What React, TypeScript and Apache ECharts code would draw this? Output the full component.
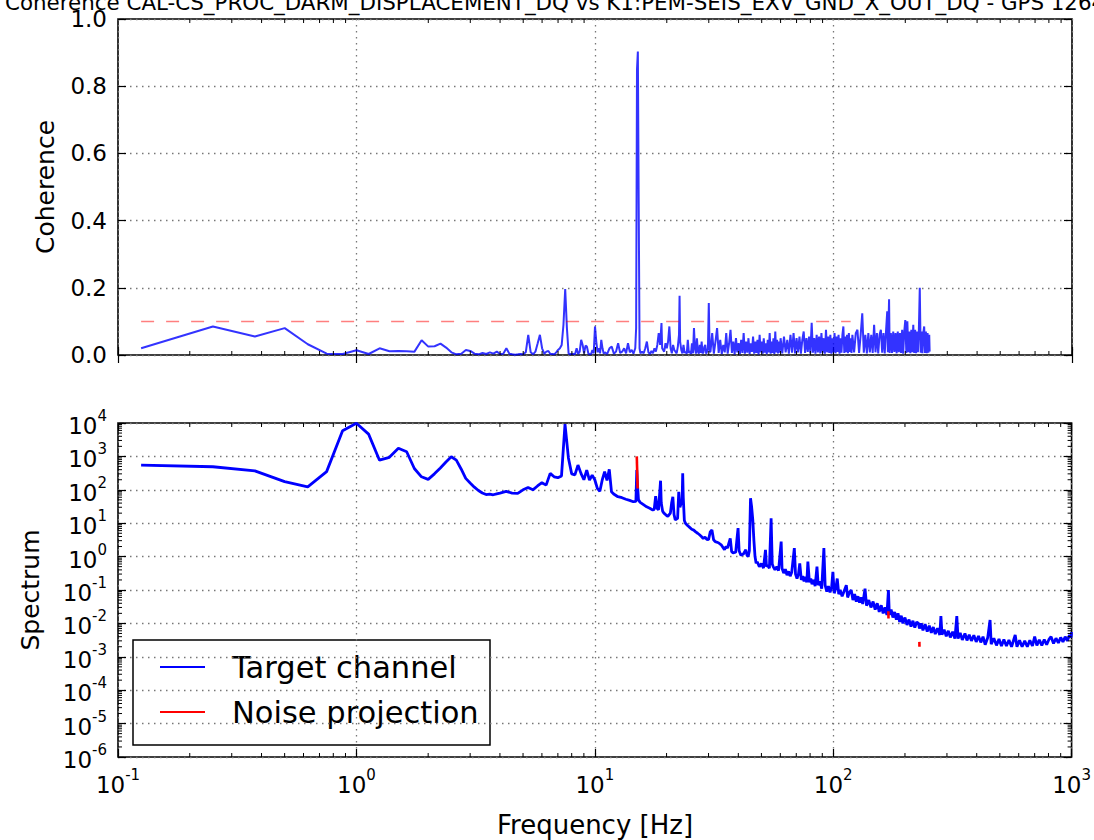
import React, { useEffect, useRef } from 'react';
import * as echarts from 'echarts';

const FONT = '"DejaVu Sans", "Liberation Sans", sans-serif';

const TITLE = 'Coherence CAL-CS_PROC_DARM_DISPLACEMENT_DQ vs K1:PEM-SEIS_EXV_GND_X_OUT_DQ - GPS 1264';
const Y_TOP_LABEL = 'Coherence';
const Y_BOTTOM_LABEL = 'Spectrum';
const X_LABEL = 'Frequency [Hz]';
const LEGEND_ITEMS = ['Target channel', 'Noise projection'];

const FREQ_MIN = 0.1;
const FREQ_MAX = 1000;
const SPEC_MIN = 1e-6;
const SPEC_MAX = 1e4;
const COH_MIN = 0;
const COH_MAX = 1;
const COH_INTERVAL = 0.2;

const xDecades = [-1, 0, 1, 2];
const yDecades = [-6, -5, -4, -3, -2, -1, 0, 1, 2, 3];
const minorMultipliers = [2, 3, 4, 5, 6, 7, 8, 9];

// coherence threshold line
const thresholdValue = 0.1;
const thresholdFreqs = [0.125, 118];

// coherence [Hz, coherence]
const coherence: [number, number][] = [
  [0.125, 0.02], [0.25, 0.085], [0.375, 0.055], [0.5, 0.08], [0.625, 0.032], [0.75, 0.004], [0.875, 0.003],
  [1.0, 0.014], [1.125, 0.003], [1.25, 0.02], [1.375, 0.011], [1.5, 0.012], [1.625, 0.011], [1.75, 0.01],
  [1.875, 0.044], [2.0, 0.025], [2.125, 0.026], [2.25, 0.034], [2.375, 0.022], [2.5, 0.008], [2.625, 0.002],
  [2.75, 0.004], [2.875, 0.015], [3.0, 0.012], [3.125, 0.004], [3.25, 0.002], [3.375, 0.006], [3.5, 0.003],
  [3.625, 0.008], [3.75, 0.004], [3.875, 0.01], [4.0, 0.003], [4.125, 0.004], [4.25, 0.02], [4.375, 0.004],
  [4.5, 0.002], [4.625, 0.001], [4.75, 0.002], [4.875, 0.003], [5.0, 0.002], [5.125, 0.008], [5.25, 0.06],
  [5.375, 0.008], [5.5, 0.002], [5.625, 0.01], [5.75, 0.035], [5.875, 0.06], [6.0, 0.02], [6.125, 0.004],
  [6.25, 0.01], [6.375, 0.012], [6.5, 0.003], [6.625, 0.003], [6.75, 0.002], [6.875, 0.008], [7.0, 0.015],
  [7.125, 0.02], [7.25, 0.03], [7.375, 0.09], [7.5, 0.196], [7.625, 0.08], [7.75, 0.005], [7.875, 0.002],
  [8.0, 0.004], [8.125, 0.003], [8.25, 0.003], [8.375, 0.02], [8.5, 0.003], [8.625, 0.01], [8.75, 0.045],
  [8.875, 0.03], [9.0, 0.005], [9.125, 0.028], [9.25, 0.025], [9.375, 0.005], [9.5, 0.002], [9.625, 0.003],
  [9.75, 0.015], [9.875, 0.005], [10.0, 0.085], [10.125, 0.04], [10.25, 0.008], [10.375, 0.02], [10.5, 0.005],
  [10.625, 0.045], [10.75, 0.02], [10.875, 0.004], [11.0, 0.008], [11.25, 0.003], [11.5, 0.02], [11.75, 0.025],
  [12.0, 0.004], [12.25, 0.01], [12.5, 0.035], [12.75, 0.006], [13.0, 0.01], [13.25, 0.02], [13.5, 0.005],
  [13.75, 0.035], [14.0, 0.008], [14.25, 0.015], [14.5, 0.004], [14.75, 0.02], [14.875, 0.08], [15.0, 0.85],
  [15.125, 0.903], [15.25, 0.45], [15.375, 0.02], [15.5, 0.005], [15.75, 0.01], [16.0, 0.005], [16.25, 0.02],
  [16.5, 0.04], [16.75, 0.008], [17.0, 0.003], [17.25, 0.012], [17.5, 0.005], [17.75, 0.02], [18.0, 0.01],
  [18.25, 0.03], [18.5, 0.065], [18.75, 0.03], [19.0, 0.095], [19.125, 0.02], [19.5, 0.01], [19.75, 0.035],
  [20.0, 0.02], [20.25, 0.04], [20.5, 0.085], [20.75, 0.02], [21.0, 0.005], [21.25, 0.03], [21.5, 0.015],
  [22.0, 0.005], [22.25, 0.025], [22.5, 0.06], [22.625, 0.176], [22.75, 0.04], [23.0, 0.015], [23.25, 0.005],
  [23.5, 0.03], [23.75, 0.006], [24.0, 0.01], [24.25, 0.004], [24.5, 0.045], [24.75, 0.006], [25.0, 0.012],
  [25.25, 0.003], [25.5, 0.035], [25.75, 0.005], [26.0, 0.08], [26.25, 0.02], [26.5, 0.004], [26.75, 0.05],
  [27.0, 0.01], [27.25, 0.004], [27.5, 0.03], [27.75, 0.006], [28.0, 0.04], [28.25, 0.005], [28.5, 0.008],
  [28.75, 0.025], [29.0, 0.03], [29.25, 0.004], [29.5, 0.01], [29.75, 0.02], [30.0, 0.155], [30.25, 0.01],
  [30.5, 0.01], [31, 0.065], [31.5, 0.004], [32, 0.04], [32.5, 0.08], [33, 0.006], [33.5, 0.045], [34, 0.003],
  [34.5, 0.03], [35, 0.008], [35.5, 0.065], [36, 0.004], [36.5, 0.035], [37, 0.075], [37.5, 0.006], [38, 0.04],
  [38.5, 0.002], [39, 0.05], [39.5, 0.008], [40, 0.035], [40.5, 0.003], [41, 0.045], [41.5, 0.006], [42, 0.065],
  [42.5, 0.004], [43, 0.04], [43.5, 0.007], [44, 0.05], [44.5, 0.003], [45, 0.035], [45.5, 0.009], [46, 0.055],
  [46.5, 0.004], [47, 0.04], [47.5, 0.006], [48, 0.045], [48.5, 0.002], [49, 0.06], [49.5, 0.008], [50, 0.04],
  [50.5, 0.004], [51, 0.05], [51.5, 0.007], [52, 0.035], [52.5, 0.003], [53, 0.045], [53.5, 0.008], [54, 0.065],
  [54.5, 0.004], [55, 0.04], [55.5, 0.006], [56, 0.05], [56.5, 0.003], [57, 0.07], [57.5, 0.008], [58, 0.045],
  [58.5, 0.005], [59, 0.04], [59.5, 0.007], [60, 0.05],
  [61, 0.005], [62, 0.055], [63, 0.008], [64, 0.045], [65, 0.004], [66, 0.06], [67, 0.007], [68, 0.065],
  [69, 0.005], [70, 0.05], [71, 0.008], [72, 0.055], [73, 0.004], [74, 0.045], [75, 0.07], [76, 0.006],
  [77, 0.05], [78, 0.009], [79, 0.055], [80, 0.005], [81, 0.096], [82, 0.007], [83, 0.05], [84, 0.004],
  [85, 0.06], [86, 0.008], [87, 0.055], [88, 0.005], [89, 0.065], [90, 0.007], [91, 0.05], [92, 0.004],
  [93, 0.075], [94, 0.008], [95, 0.055], [96, 0.006], [97, 0.06], [98, 0.004], [99, 0.05], [100, 0.008],
  [101, 0.065], [102, 0.005], [103, 0.055], [104, 0.009], [105, 0.06], [106, 0.004], [107, 0.05], [108, 0.007],
  [109, 0.06], [110, 0.085], [111, 0.006], [112, 0.055], [113, 0.008], [114, 0.06], [115, 0.005], [116, 0.065],
  [117, 0.009], [118, 0.05], [119, 0.006], [120, 0.06],
  [122, 0.008], [124, 0.065], [126, 0.075], [128, 0.006], [130, 0.06], [132, 0.124], [134, 0.007], [136, 0.06],
  [138, 0.005], [140, 0.065], [142, 0.008], [144, 0.06], [146, 0.006], [148, 0.09], [150, 0.008], [152, 0.065],
  [154, 0.005], [156, 0.06], [158, 0.075], [160, 0.007], [162, 0.065], [164, 0.005], [166, 0.07], [168, 0.13],
  [169, 0.008], [171, 0.166], [172, 0.006], [174, 0.065], [176, 0.006], [178, 0.07], [180, 0.009], [182, 0.065],
  [184, 0.005], [186, 0.07], [188, 0.008], [190, 0.065], [192, 0.006], [194, 0.075], [196, 0.004], [198, 0.07],
  [200, 0.104], [202, 0.006], [204, 0.1], [206, 0.008], [208, 0.07], [210, 0.005], [212, 0.075], [214, 0.008],
  [216, 0.09], [218, 0.006], [220, 0.075], [222, 0.005], [224, 0.07], [226, 0.008], [228, 0.075], [230, 0.2],
  [232, 0.007], [234, 0.07], [236, 0.005], [238, 0.065], [240, 0.085], [242, 0.006], [244, 0.07], [246, 0.005],
  [248, 0.065], [250, 0.007], [252, 0.06], [253, 0.01],
];

// target channel spectrum [Hz, value]
const spectrum: [number, number][] = [
  [0.125, 550], [0.25, 490], [0.375, 370], [0.5, 175], [0.625, 123], [0.75, 350], [0.875, 5900], [1.0, 9800],
  [1.125, 4650], [1.25, 770], [1.375, 940], [1.5, 1750], [1.625, 1380], [1.75, 435], [1.875, 245], [2.0, 205],
  [2.125, 300], [2.25, 450], [2.375, 680], [2.5, 975], [2.625, 770], [2.75, 420], [2.875, 220], [3.0, 160],
  [3.125, 120], [3.25, 95], [3.375, 80], [3.5, 72], [3.625, 74], [3.75, 71], [3.875, 76], [4.0, 80], [4.25, 90],
  [4.5, 80], [4.75, 78], [5.0, 100], [5.25, 117], [5.5, 100], [5.75, 130], [6.0, 163], [6.25, 138], [6.5, 310],
  [6.75, 245], [7.0, 230], [7.25, 260], [7.5, 9300], [7.75, 900], [8.0, 300], [8.25, 280], [8.5, 550], [8.75, 310],
  [9.0, 200], [9.25, 390], [9.5, 195], [9.75, 275], [10.0, 200], [10.25, 110], [10.5, 90], [10.75, 200], [11.0, 350],
  [11.25, 190], [11.5, 410], [11.75, 87], [12.0, 75], [12.5, 62], [13.0, 58], [13.5, 52], [14.0, 48], [14.5, 44],
  [14.875, 45], [15.0, 390], [15.125, 120], [15.25, 50], [15.5, 42], [16.0, 36], [16.5, 31], [17.0, 28], [17.5, 25],
  [17.75, 26], [18.0, 65], [18.25, 28], [18.5, 25], [18.875, 187], [19.0, 40], [19.25, 23], [19.5, 20], [20.0, 17],
  [20.25, 16], [20.75, 20], [21.0, 40], [21.25, 62], [21.5, 18], [21.75, 12.6], [22.25, 14], [22.5, 87], [22.75, 30],
  [23.25, 50], [23.375, 310], [23.5, 60], [23.75, 12], [24.0, 10], [24.5, 8.5], [25.0, 7.5], [25.5, 6.6], [26.0, 6.2],
  [26.5, 5.5], [27.0, 5], [27.5, 4.5], [28.0, 4], [28.5, 3.5], [29.0, 3.8], [29.5, 3.3], [30.0, 3.2], [30.5, 5.5],
  [31.0, 6.3], [31.5, 3.2], [32.0, 2.8], [33.0, 2.6], [34.0, 2.2], [35.0, 1.6], [35.5, 2.0], [36.0, 1.8], [37.0, 3.5],
  [37.5, 1.4], [38.0, 1.3], [39.0, 1.35], [39.5, 3.5], [39.9, 7.1], [40.3, 1.5], [41.0, 1.1], [42.0, 1.2], [43.0, 1.6],
  [43.5, 1.1], [44.0, 1.0], [44.5, 1.5], [45.0, 56], [45.5, 30], [46.0, 12.6], [46.5, 3], [47.0, 1.0], [47.5, 0.63],
  [48, 0.7], [49, 0.5], [50, 0.62], [51, 0.45], [52, 1.6], [52.5, 0.5], [53, 0.55], [54, 0.45], [54.9, 14], [55.5, 0.6],
  [56, 0.5], [57, 0.4], [58, 0.5], [59, 0.38], [60.5, 2.8], [61, 0.45], [62, 0.32], [63, 0.42], [64, 0.28], [65, 0.36],
  [66, 0.26], [67, 0.34], [68.7, 1.8], [69.5, 0.3], [70.5, 0.22], [71.5, 0.3], [72.4, 0.63], [73.5, 0.2], [74.5, 0.26],
  [75.5, 0.18], [76.5, 0.25], [77.5, 0.17], [78.3, 0.71], [79.5, 0.17], [80.5, 0.22], [81.5, 0.15], [83, 0.2],
  [84, 0.13], [85.5, 0.5], [86.5, 0.14], [88, 0.18], [89.5, 0.11], [91.4, 1.8], [92.5, 0.14], [94, 0.09], [95.5, 0.13],
  [97, 0.085], [98.5, 0.12], [99.7, 0.35], [101, 0.08], [102.5, 0.11], [104, 0.22], [105.5, 0.075], [107, 0.1],
  [109, 0.065], [111, 0.09], [113.5, 0.14], [115, 0.06], [117, 0.085], [119, 0.1], [121, 0.05], [123, 0.075],
  [125, 0.045], [127, 0.065], [129, 0.042], [131, 0.06], [133, 0.038], [136, 0.11], [138, 0.034], [141, 0.05],
  [144, 0.03], [147, 0.045], [150, 0.026], [153, 0.04], [156, 0.022], [159, 0.035], [162, 0.02], [165, 0.03],
  [168, 0.018], [170.5, 0.1], [172, 0.018], [175, 0.026], [178, 0.015], [181, 0.022], [184, 0.013], [187, 0.02],
  [190, 0.011], [193, 0.017], [196, 0.01], [200, 0.015], [204, 0.009], [208, 0.013], [212, 0.008], [216, 0.012],
  [220, 0.0075], [224, 0.011], [228, 0.01], [230, 0.007], [234, 0.01], [238, 0.0062], [243, 0.0095], [248, 0.0057],
  [253, 0.0085], [258, 0.0052], [263, 0.0078], [268, 0.0048], [274, 0.0072], [280, 0.0045], [283, 0.0166],
  [286, 0.0046], [292, 0.0065], [298, 0.0041], [304, 0.006], [310, 0.0038], [317, 0.0056], [324, 0.0035],
  [330, 0.0166], [334, 0.0035], [341, 0.0052], [348, 0.0032], [357, 0.005], [364, 0.0031], [372, 0.0046],
  [380, 0.003], [389, 0.0044], [398, 0.0028], [407, 0.0042], [416, 0.0027], [425, 0.004], [434, 0.0023],
  [445, 0.0038], [455, 0.0126], [460, 0.0024], [472, 0.0036], [484, 0.0022], [496, 0.0034], [508, 0.0021],
  [520, 0.0033], [533, 0.0021], [546, 0.0032], [560, 0.002], [580, 0.0045], [590, 0.002], [605, 0.0031],
  [620, 0.002], [636, 0.003], [652, 0.002], [668, 0.0031], [685, 0.0021], [700, 0.004], [715, 0.0022],
  [732, 0.0032], [750, 0.0022], [768, 0.0033], [786, 0.0023], [805, 0.0034], [820, 0.004], [840, 0.0025],
  [860, 0.0036], [880, 0.0026], [900, 0.0038], [920, 0.0028], [940, 0.004], [960, 0.003], [980, 0.0045],
  [995, 0.0038], [1000, 0.0055],
];

// noise projection segments (shown only where coherence exceeds threshold)
const noiseSegments: [number, number][][] = [
  [[15.0, 1000], [15.125, 110]],
  [[170.4, 0.023], [170.6, 0.014]],
  [[229.9, 0.0028], [230.1, 0.002]],
];

const BLUE = '#0000ff';
const RED = '#ff0000';

const gridLineStyle = { color: '#777', width: 1.3, type: [1.5, 4.5] as number[] };
const majorTick = { show: true, inside: true, length: 8, lineStyle: { color: '#000', width: 1.2 } };

const supLabel = (v: number) => {
  const e = Math.round(Math.log10(v));
  return `{b|10}{s|${e}}`;
};
const richLabel = {
  b: { fontSize: 23, fontFamily: FONT, color: '#000', verticalAlign: 'bottom' },
  s: { fontSize: 15, fontFamily: FONT, color: '#000', verticalAlign: 'bottom', padding: [0, 0, 14, 0] },
};

function minorValues(decades: number[]) {
  const out: number[] = [];
  decades.forEach((d) => minorMultipliers.forEach((m) => out.push(m * Math.pow(10, d))));
  return out;
}

function tickLine(x1: number, y1: number, x2: number, y2: number) {
  return { type: 'line', shape: { x1, y1, x2, y2 }, style: { stroke: '#000', lineWidth: 1 } };
}

export default function App() {
  const ref = useRef<HTMLDivElement>(null);

  useEffect(() => {
    if (!ref.current) return;
    const chart = echarts.init(ref.current, undefined, { renderer: 'svg' });

    const minorX = minorValues(xDecades);
    const minorY = minorValues(yDecades);

    const xBase: any = {
      type: 'log', logBase: 10, min: FREQ_MIN, max: FREQ_MAX, interval: 1,
      axisLine: { show: false }, axisTick: majorTick,
    };
    const yLogBase: any = {
      type: 'log', logBase: 10, gridIndex: 1, min: SPEC_MIN, max: SPEC_MAX, interval: 1,
      axisLine: { show: false }, axisTick: majorTick,
    };

    const option: any = {
      animation: false,
      backgroundColor: '#fff',
      grid: [
        { left: 118, top: 19, width: 954, height: 336, show: true, borderColor: '#000', borderWidth: 1.6, backgroundColor: 'transparent' },
        { left: 118, top: 423, width: 954, height: 334, show: true, borderColor: '#000', borderWidth: 1.6, backgroundColor: 'transparent' },
      ],
      xAxis: [
        { ...xBase, gridIndex: 0, position: 'bottom', axisLabel: { show: false }, splitLine: { show: true, lineStyle: gridLineStyle } },
        { ...xBase, gridIndex: 0, position: 'top', axisLabel: { show: false }, splitLine: { show: false } },
        {
          ...xBase, gridIndex: 1, position: 'bottom',
          axisLabel: { show: true, margin: 10, formatter: supLabel, rich: richLabel },
          splitLine: { show: true, lineStyle: gridLineStyle },
        },
        { ...xBase, gridIndex: 1, position: 'top', axisLabel: { show: false }, splitLine: { show: false } },
      ],
      yAxis: [
        {
          type: 'value', gridIndex: 0, position: 'left', min: COH_MIN, max: COH_MAX, interval: COH_INTERVAL,
          axisLine: { show: false }, axisTick: majorTick,
          axisLabel: { formatter: (v: number) => v.toFixed(1), fontSize: 23, fontFamily: FONT, color: '#000', margin: 11 },
          splitLine: { show: true, lineStyle: gridLineStyle },
        },
        {
          type: 'value', gridIndex: 0, position: 'right', min: COH_MIN, max: COH_MAX, interval: COH_INTERVAL,
          axisLine: { show: false }, axisTick: majorTick, axisLabel: { show: false }, splitLine: { show: false },
        },
        {
          ...yLogBase, position: 'left',
          axisLabel: { margin: 11, formatter: supLabel, rich: richLabel, hideOverlap: false },
          splitLine: { show: true, lineStyle: gridLineStyle },
        },
        {
          ...yLogBase, position: 'right', axisLabel: { show: false }, splitLine: { show: false },
        },
      ],
      series: [
        {
          name: 'Coherence', type: 'line', xAxisIndex: 0, yAxisIndex: 0, data: coherence,
          showSymbol: false, symbol: 'none', lineStyle: { color: 'rgba(0,0,255,0.8)', width: 2 }, z: 3,
        },
        {
          name: 'Threshold', type: 'line', xAxisIndex: 0, yAxisIndex: 0,
          data: thresholdFreqs.map((f) => [f, thresholdValue]),
          showSymbol: false, symbol: 'none', lineStyle: { color: 'rgba(255,0,0,0.5)', width: 1.5, type: [13, 12] }, z: 4,
        },
        {
          name: LEGEND_ITEMS[0], type: 'line', xAxisIndex: 2, yAxisIndex: 2, data: spectrum,
          showSymbol: false, symbol: 'none', lineStyle: { color: BLUE, width: 2.8 }, z: 3,
        },
        ...noiseSegments.map((seg) => ({
          name: LEGEND_ITEMS[1], type: 'line', xAxisIndex: 2, yAxisIndex: 2, data: seg,
          showSymbol: false, symbol: 'none', lineStyle: { color: RED, width: 2.6 }, z: 4,
        })),
        {
          type: 'custom', xAxisIndex: 0, yAxisIndex: 0, silent: true, clip: false, z: 6,
          data: minorX.map((f) => [f, COH_MIN]),
          renderItem: (_p: any, api: any) => {
            const f = api.value(0);
            const b = api.coord([f, COH_MIN]);
            const t = api.coord([f, COH_MAX]);
            return { type: 'group', children: [tickLine(b[0], b[1], b[0], b[1] - 4), tickLine(t[0], t[1], t[0], t[1] + 4)] };
          },
        },
        {
          type: 'custom', xAxisIndex: 2, yAxisIndex: 2, silent: true, clip: false, z: 6,
          data: minorX.map((f) => [f, SPEC_MIN]),
          renderItem: (_p: any, api: any) => {
            const f = api.value(0);
            const b = api.coord([f, SPEC_MIN]);
            const t = api.coord([f, SPEC_MAX]);
            return { type: 'group', children: [tickLine(b[0], b[1], b[0], b[1] - 4), tickLine(t[0], t[1], t[0], t[1] + 4)] };
          },
        },
        {
          type: 'custom', xAxisIndex: 2, yAxisIndex: 2, silent: true, clip: false, z: 6,
          data: minorY.map((v) => [FREQ_MIN, v]),
          renderItem: (_p: any, api: any) => {
            const v = api.value(1);
            const l = api.coord([FREQ_MIN, v]);
            const r = api.coord([FREQ_MAX, v]);
            return { type: 'group', children: [tickLine(l[0], l[1], l[0] + 4, l[1]), tickLine(r[0], r[1], r[0] - 4, r[1])] };
          },
        },
      ],
      graphic: [
        {
          type: 'text', left: 5, top: -8,
          style: { text: TITLE, fontSize: 21.4, fontFamily: FONT, fill: '#000' },
        },
        {
          type: 'text', x: 45, y: 187, rotation: Math.PI / 2,
          style: { text: Y_TOP_LABEL, fontSize: 25, fontFamily: FONT, fill: '#000', align: 'center', verticalAlign: 'middle' },
        },
        {
          type: 'text', x: 30, y: 590, rotation: Math.PI / 2,
          style: { text: Y_BOTTOM_LABEL, fontSize: 25, fontFamily: FONT, fill: '#000', align: 'center', verticalAlign: 'middle' },
        },
        {
          type: 'text', x: 595, y: 825,
          style: { text: X_LABEL, fontSize: 26, fontFamily: FONT, fill: '#000', align: 'center', verticalAlign: 'middle' },
        },
        {
          type: 'group', z: 100,
          children: [
            { type: 'rect', shape: { x: 133, y: 640, width: 357, height: 105 }, style: { fill: '#fff', stroke: '#000', lineWidth: 1.5 } },
            { type: 'line', shape: { x1: 160, y1: 667, x2: 205, y2: 667 }, style: { stroke: BLUE, lineWidth: 2 } },
            { type: 'text', x: 232, y: 667, style: { text: LEGEND_ITEMS[0], fontSize: 30.5, fontFamily: FONT, fill: '#000', verticalAlign: 'middle' } },
            { type: 'line', shape: { x1: 160, y1: 712, x2: 205, y2: 712 }, style: { stroke: RED, lineWidth: 2 } },
            { type: 'text', x: 232, y: 712, style: { text: LEGEND_ITEMS[1], fontSize: 30.5, fontFamily: FONT, fill: '#000', verticalAlign: 'middle' } },
          ],
        },
      ],
    };

    chart.setOption(option);
    return () => chart.dispose();
  }, []);

  return <div ref={ref} style={{ position: 'absolute', left: 0, top: 0, width: 1094, height: 840 }} />;
}
